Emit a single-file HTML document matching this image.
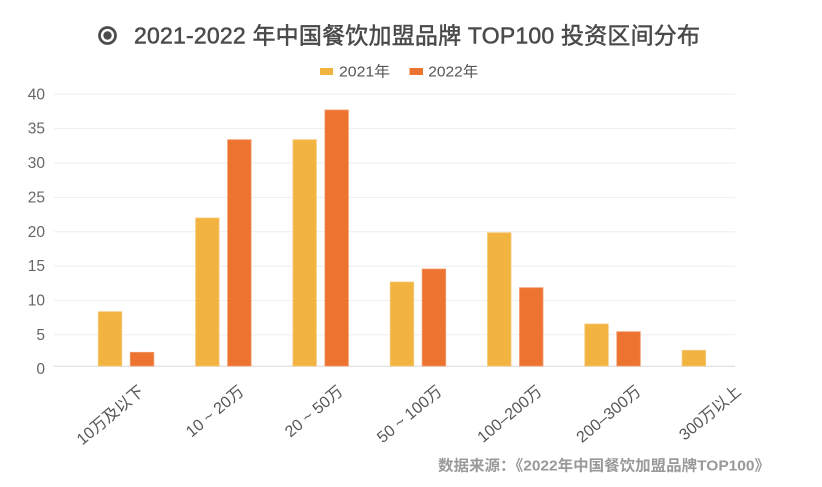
<!DOCTYPE html>
<html>
<head>
<meta charset="utf-8">
<style>
  html,body{margin:0;padding:0;background:#fff;}
  svg{display:block;}
  text{font-family:"Liberation Sans","Noto Sans CJK SC",sans-serif;}
</style>
</head>
<body>
<svg width="822" height="487" viewBox="0 0 822 487" xmlns="http://www.w3.org/2000/svg">
  <rect width="822" height="487" fill="#fff"/>

  <!-- title icon -->
  <circle cx="107.5" cy="35.5" r="8" fill="none" stroke="#4d4d4d" stroke-width="2.8"/>
  <circle cx="107.5" cy="35.5" r="4.2" fill="#4d4d4d"/>
  <!-- title -->
  <text x="134" y="43.5" font-size="23" fill="#4a4a4a" textLength="566" lengthAdjust="spacing" stroke="#4a4a4a" stroke-width="0.5">2021-2022 年中国餐饮加盟品牌 TOP100 投资区间分布</text>

  <!-- legend -->
  <rect x="320" y="68" width="13" height="7" fill="#F2B441"/>
  <text x="339" y="76.5" font-size="15" fill="#555" textLength="51" lengthAdjust="spacingAndGlyphs">2021年</text>
  <rect x="409.5" y="68" width="13.5" height="7" fill="#ED7331"/>
  <text x="428.3" y="76.5" font-size="15" fill="#555" textLength="50" lengthAdjust="spacingAndGlyphs">2022年</text>

  <!-- gridlines -->
  <g stroke="#eeeeee" stroke-width="1">
    <line x1="54" x2="735" y1="94.3" y2="94.3"/>
    <line x1="54" x2="735" y1="128.6" y2="128.6"/>
    <line x1="54" x2="735" y1="163" y2="163"/>
    <line x1="54" x2="735" y1="197.4" y2="197.4"/>
    <line x1="54" x2="735" y1="231.7" y2="231.7"/>
    <line x1="54" x2="735" y1="266.1" y2="266.1"/>
    <line x1="54" x2="735" y1="300.5" y2="300.5"/>
    <line x1="54" x2="735" y1="334.8" y2="334.8"/>
  </g>
  <line x1="54" x2="735" y1="366.3" y2="366.3" stroke="#e3e3e3" stroke-width="1.4"/>

  <!-- y labels -->
  <g font-size="15.5" fill="#666" text-anchor="end">
    <text x="45" y="99.3">40</text>
    <text x="45" y="133.7">35</text>
    <text x="45" y="168">30</text>
    <text x="45" y="202.4">25</text>
    <text x="45" y="236.8">20</text>
    <text x="45" y="271.1">15</text>
    <text x="45" y="305.5">10</text>
    <text x="45" y="339.9">5</text>
    <text x="45" y="374.2">0</text>
  </g>

  <!-- bars 2021 -->
  <g fill="#F2B441" stroke="#F6C979" stroke-width="0.8">
    <rect x="98.3" y="311.7" width="23.5" height="54.3"/>
    <rect x="195.6" y="218" width="23.5" height="148"/>
    <rect x="292.9" y="139.7" width="23.5" height="226.3"/>
    <rect x="390.2" y="282" width="23.5" height="84"/>
    <rect x="487.5" y="232.7" width="23.5" height="133.3"/>
    <rect x="584.8" y="324" width="23.5" height="42"/>
    <rect x="682.1" y="350.3" width="23.5" height="15.7"/>
  </g>
  <!-- bars 2022 -->
  <g fill="#ED7331" stroke="#F29A6A" stroke-width="0.8">
    <rect x="130.3" y="352.3" width="23.5" height="13.7"/>
    <rect x="227.6" y="139.7" width="23.5" height="226.3"/>
    <rect x="324.9" y="110" width="23.5" height="256"/>
    <rect x="422.2" y="269" width="23.5" height="97"/>
    <rect x="519.5" y="287.7" width="23.5" height="78.3"/>
    <rect x="616.8" y="331.7" width="23.5" height="34.3"/>
  </g>

  <!-- x labels -->
  <g font-size="16" fill="#555" text-anchor="end">
    <text transform="translate(145,393) rotate(-40)">10万及以下</text>
    <text transform="translate(245,393) rotate(-40)">10 ~ 20万</text>
    <text transform="translate(344,393) rotate(-40)">20 ~ 50万</text>
    <text transform="translate(443,393) rotate(-40)">50 ~ 100万</text>
    <text transform="translate(543,393) rotate(-40)">100–200万</text>
    <text transform="translate(642,393) rotate(-40)">200–300万</text>
    <text transform="translate(742,393) rotate(-40)">300万以上</text>
  </g>

  <!-- source -->
  <text x="770" y="470.5" font-size="15" fill="#999" font-weight="bold" text-anchor="end" textLength="332" lengthAdjust="spacingAndGlyphs">数据来源：《2022年中国餐饮加盟品牌TOP100》</text>
</svg>
</body>
</html>
